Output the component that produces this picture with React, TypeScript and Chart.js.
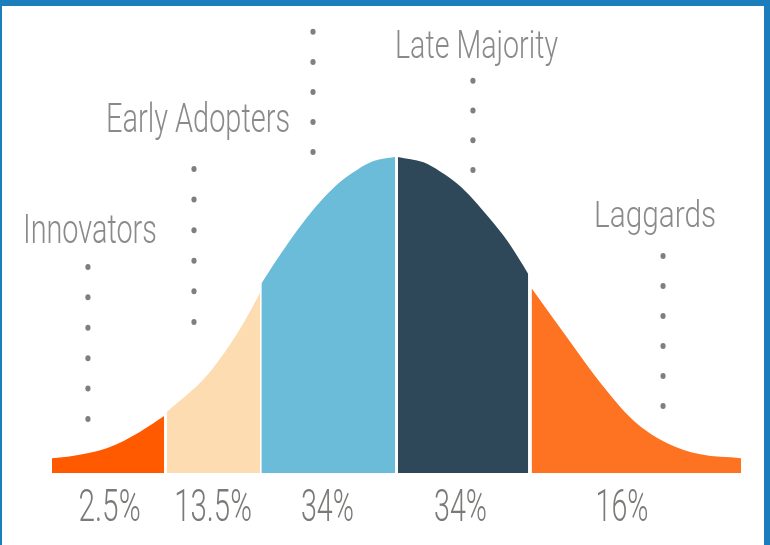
import React, { useEffect, useRef } from "react";
import { Chart, registerables } from "chart.js";

Chart.register(...registerables);

// ---- data ----
const categories = ["Innovators", "Early Adopters", "Early Majority", "Late Majority", "Laggards"];
const shareLabels = ["2.5%", "13.5%", "34%", "34%", "16%"];
const segmentColors = ["#ff5a00", "#fcdcb0", "#6bbcd9", "#2e4759", "#fe7322"];

// curve height (% of peak) against position (standard deviations from the mean)
const innovatorsX = [-2.55, -2.4, -2.14, -1.9, -1.72];
const innovatorsY = [4.7, 5.4, 7.9, 13.0, 18.0];
const earlyAdoptersX = [-1.7, -1.4, -1.16, -1.01];
const earlyAdoptersY = [19.3, 31, 45.5, 57];
const earlyMajorityX = [-1.0, -0.91, -0.79, -0.66, -0.54, -0.42, -0.29, -0.17, -0.01];
const earlyMajorityY = [60, 66, 73.5, 81, 87, 92, 96, 98.7, 100];
const lateMajorityX = [0.01, 0.2, 0.32, 0.45, 0.57, 0.69, 0.82, 0.94, 0.975];
const lateMajorityY = [100, 98.3, 95.5, 91.5, 86.5, 80.5, 73.5, 65.5, 63];
const laggardsX = [1.0, 1.26, 1.51, 1.75, 2.0, 2.25, 2.55];
const laggardsY = [58.5, 43, 28.5, 16.8, 9.5, 5.9, 4.7];

const segmentsX = [innovatorsX, earlyAdoptersX, earlyMajorityX, lateMajorityX, laggardsX];
const segmentsY = [innovatorsY, earlyAdoptersY, earlyMajorityY, lateMajorityY, laggardsY];

// category captions shown (Early Majority has no caption in the picture)
const captionText = ["Innovators", "Early Adopters", "", "Late Majority", "Laggards"];

// ---- layout (annotation anchors in axis units) ----
const captionLeft = [-2.765, -2.15, 0, -0.011, 1.462];
const captionBase = [72.8, 107.9, 0, 131.3, 77.8];
const captionWidth = [134, 184, 0, 163, 122];
const captionCap = [29, 29, 0, 28, 26];

const leaderX = [-2.284, -1.499, -0.618, 0.566, 1.973];
const leaderTop = [65.2, 96.2, 139.6, 124.1, 68.7];
const leaderBottom = [17.1, 47.8, 101.6, 95.9, 21.2];
const leaderCount = [6, 6, 5, 4, 6];

const shareX = [-2.124, -1.358, -0.511, 0.474, 1.669];
const shareBase = -15.2;
const shareWidth = 53;
const shareCap = 31;

const FONT = `Roboto, "Open Sans", Lato, sans-serif`;

function drawSqueezed(
  ctx: CanvasRenderingContext2D,
  text: string,
  x: number,
  y: number,
  capPx: number,
  widthPx: number,
  color: string,
  align: "left" | "center"
) {
  const size = capPx / 0.71;
  ctx.save();
  ctx.font = `300 ${size}px ${FONT}`;
  const w = ctx.measureText(text).width;
  const sx = widthPx / w;
  ctx.translate(x, y);
  ctx.scale(sx, 1);
  ctx.fillStyle = color;
  ctx.textBaseline = "alphabetic";
  ctx.textAlign = align;
  ctx.fillText(text, 0, 0);
  ctx.restore();
}

const annotationPlugin = {
  id: "adoptionAnnotations",
  afterDatasetsDraw(chart: any) {
    const ctx: CanvasRenderingContext2D = chart.ctx;
    const xs = chart.scales.x;
    const ys = chart.scales.y;

    // dotted leaders
    ctx.save();
    ctx.fillStyle = "#7f7f7f";
    for (let i = 0; i < categories.length; i++) {
      const px = xs.getPixelForValue(leaderX[i]);
      const top = ys.getPixelForValue(leaderTop[i]);
      const bottom = ys.getPixelForValue(leaderBottom[i]);
      const n = leaderCount[i];
      for (let k = 0; k < n; k++) {
        const py = top + ((bottom - top) * k) / (n - 1);
        ctx.beginPath();
        ctx.ellipse(px, py, 2.6, 3, 0, 0, Math.PI * 2);
        ctx.fill();
      }
    }
    ctx.restore();

    // captions
    for (let i = 0; i < categories.length; i++) {
      if (!captionText[i]) continue;
      drawSqueezed(
        ctx,
        captionText[i],
        xs.getPixelForValue(captionLeft[i]),
        ys.getPixelForValue(captionBase[i]),
        captionCap[i],
        captionWidth[i],
        "#8a8a8a",
        "left"
      );
    }

    // share labels
    for (let i = 0; i < shareLabels.length; i++) {
      const w = shareLabels[i].length === 3 ? shareWidth : shareWidth * (shareLabels[i].length / 3) * 0.88;
      drawSqueezed(
        ctx,
        shareLabels[i],
        xs.getPixelForValue(shareX[i]),
        ys.getPixelForValue(shareBase),
        shareCap,
        w,
        "#7c7a77",
        "center"
      );
    }
  },
};

export default function App() {
  const ref = useRef<HTMLCanvasElement | null>(null);

  useEffect(() => {
    if (!ref.current) return;
    const datasets = categories.map((name, i) => ({
      label: name,
      data: segmentsX[i].map((x, k) => ({ x, y: segmentsY[i][k] })),
      backgroundColor: segmentColors[i],
      borderColor: segmentColors[i],
      borderWidth: 0,
      pointRadius: 0,
      fill: "origin",
      cubicInterpolationMode: "monotone" as const,
      clip: false as any,
    }));
    const chart = new Chart(ref.current, {
      type: "line",
      data: { datasets },
      options: {
        animation: false,
        responsive: false,
        maintainAspectRatio: false,
        layout: { padding: { left: 52, right: 29, top: 157, bottom: 72 } },
        plugins: { legend: { display: false }, tooltip: { enabled: false }, title: { display: false } },
        scales: {
          x: { type: "linear", min: -2.55, max: 2.55, display: false },
          y: { type: "linear", min: 0, max: 100, display: false },
        },
      },
      plugins: [annotationPlugin],
    });
    return () => chart.destroy();
  }, []);

  const border = "#1b7dbb";
  return (
    <div style={{ position: "fixed", left: 0, top: 0, width: 770, height: 545, background: "#ffffff", overflow: "hidden" }}>
      <canvas ref={ref} width={770} height={545} style={{ position: "absolute", left: 0, top: 0, width: 770, height: 545 }} />
      <div style={{ position: "absolute", left: 0, top: 0, width: 770, height: 6, background: border }} />
      <div style={{ position: "absolute", left: 0, top: 0, width: 2, height: 545, background: border }} />
      <div style={{ position: "absolute", left: 764, top: 0, width: 6, height: 545, background: border }} />
    </div>
  );
}
